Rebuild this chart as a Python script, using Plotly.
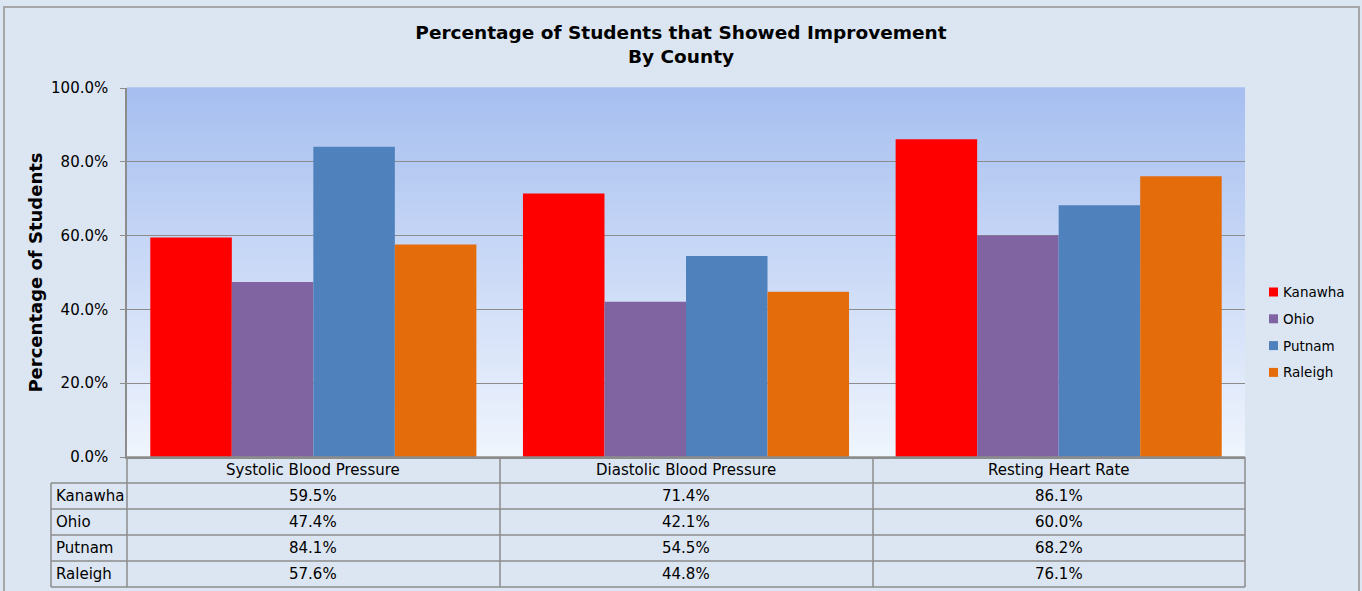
import plotly.graph_objects as go

# ---- data ----
categories = ["Systolic Blood Pressure", "Diastolic Blood Pressure", "Resting Heart Rate"]
counties = ["Kanawha", "Ohio", "Putnam", "Raleigh"]
kanawha = [59.5, 71.4, 86.1]
ohio = [47.4, 42.1, 60.0]
putnam = [84.1, 54.5, 68.2]
raleigh = [57.6, 44.8, 76.1]
series_values = [kanawha, ohio, putnam, raleigh]
colors = ["#FF0000", "#8064A2", "#4F81BD", "#E46C0A"]
y_ticks = [0, 20, 40, 60, 80, 100]

W, H = 1362, 591
L, R, T, B = 127, 117, 88, 134
PW, PH = W - L - R, H - T - B


def X(px):
    return (px - L) / PW


def Y(py):
    return (H - B - py) / PH


FONT = "DejaVu Sans"
GRID = "#8C8C8C"

fig = go.Figure()
for name, vals, col in zip(counties, series_values, colors):
    fig.add_trace(go.Bar(
        name=name, x=categories, y=[v / 100 for v in vals],
        marker=dict(color=col, line=dict(width=0)),
        showlegend=False, hoverinfo="x+y+name",
    ))

shapes = []
# gradient plot background
N = 60
top = (166, 191, 240)
bot = (240, 245, 253)
for i in range(N):
    t = (i + 0.5) / N
    c = tuple(round(bot[k] + (top[k] - bot[k]) * t) for k in range(3))
    shapes.append(dict(type="rect", xref="x domain", yref="y domain",
                       x0=0, x1=1, y0=i / N, y1=(i + 1) / N + 0.002,
                       fillcolor="rgb(%d,%d,%d)" % c, line=dict(width=0),
                       layer="below"))

# outer chart border
shapes.append(dict(type="rect", xref="paper", yref="paper",
                   x0=X(4), x1=X(1359), y0=Y(610), y1=Y(7),
                   line=dict(color="#A6A6A6", width=2), layer="below"))

# data table grid
row_edges = [457, 483, 509, 535, 561, 587]
col_edges = [127, 500, 873, 1245]
for k, ry in enumerate(row_edges):
    x_start = 127 if k == 0 else 51
    shapes.append(dict(type="line", xref="paper", yref="paper",
                       x0=X(x_start), x1=X(1245), y0=Y(ry), y1=Y(ry),
                       line=dict(color=GRID, width=1.5)))
for cx in col_edges:
    shapes.append(dict(type="line", xref="paper", yref="paper",
                       x0=X(cx), x1=X(cx), y0=Y(457), y1=Y(587),
                       line=dict(color=GRID, width=1.5)))
shapes.append(dict(type="line", xref="paper", yref="paper",
                   x0=X(51), x1=X(51), y0=Y(483), y1=Y(587),
                   line=dict(color=GRID, width=1.5)))

annotations = []
# header row: category names
for cat in categories:
    annotations.append(dict(x=cat, xref="x", y=Y(470), yref="paper",
                            text=cat, showarrow=False, yanchor="middle",
                            font=dict(family=FONT, size=15, color="#000")))
# value rows
for i, (name, vals) in enumerate(zip(counties, series_values)):
    yc = Y((row_edges[i + 1] + row_edges[i + 2]) / 2)
    annotations.append(dict(x=X(54), xref="paper", y=yc, yref="paper",
                            text=name, showarrow=False, xanchor="left",
                            yanchor="middle",
                            font=dict(family=FONT, size=15, color="#000")))
    for cat, v in zip(categories, vals):
        annotations.append(dict(x=cat, xref="x", y=yc, yref="paper",
                                text="%.1f%%" % v, showarrow=False,
                                yanchor="middle",
                                font=dict(family=FONT, size=15, color="#000")))

# manual legend
for i, (name, col) in enumerate(zip(counties, colors)):
    yc = 292 + i * 26.8
    shapes.append(dict(type="rect", xref="paper", yref="paper",
                       x0=X(1269), x1=X(1278), y0=Y(yc + 4.5), y1=Y(yc - 4.5),
                       fillcolor=col, line=dict(width=0)))
    annotations.append(dict(x=X(1281), xref="paper", y=Y(yc), yref="paper",
                            text=name, showarrow=False, xanchor="left",
                            yanchor="middle",
                            font=dict(family=FONT, size=13.5, color="#000")))

fig.update_layout(
    width=W, height=H,
    margin=dict(l=L, r=R, t=T, b=B, pad=0),
    paper_bgcolor="#DCE6F2",
    plot_bgcolor="rgba(0,0,0,0)",
    barmode="group", bargap=0.125, bargroupgap=0,
    title=dict(text="Percentage of Students that Showed Improvement<br>By County",
               x=0.5, xanchor="center", xref="container",
               y=1 - 39 / H, yanchor="middle", yref="container",
               font=dict(family=FONT, size=18.5, color="#000", weight="bold")),
    shapes=shapes,
    annotations=annotations,
    showlegend=False,
)
fig.update_xaxes(showticklabels=False, showline=True, linecolor=GRID,
                 linewidth=1.5, showgrid=False, ticks="", fixedrange=True)
fig.update_yaxes(range=[0, 1], tickvals=[v / 100 for v in y_ticks],
                 tickformat=".1%", showgrid=True, gridcolor=GRID, gridwidth=1,
                 showline=True, linecolor=GRID, linewidth=1.5,
                 ticks="outside", ticklen=5, tickcolor=GRID,
                 ticklabelstandoff=9, zeroline=False,
                 tickfont=dict(family=FONT, size=15, color="#000"),
                 title=dict(text="Percentage of Students", standoff=4,
                            font=dict(family=FONT, size=18, color="#000",
                                      weight="bold")))

fig.write_html("out.html", config={"displayModeBar": False},
               post_script="document.body.style.margin='0';"
                           "document.body.style.overflow='hidden';")
